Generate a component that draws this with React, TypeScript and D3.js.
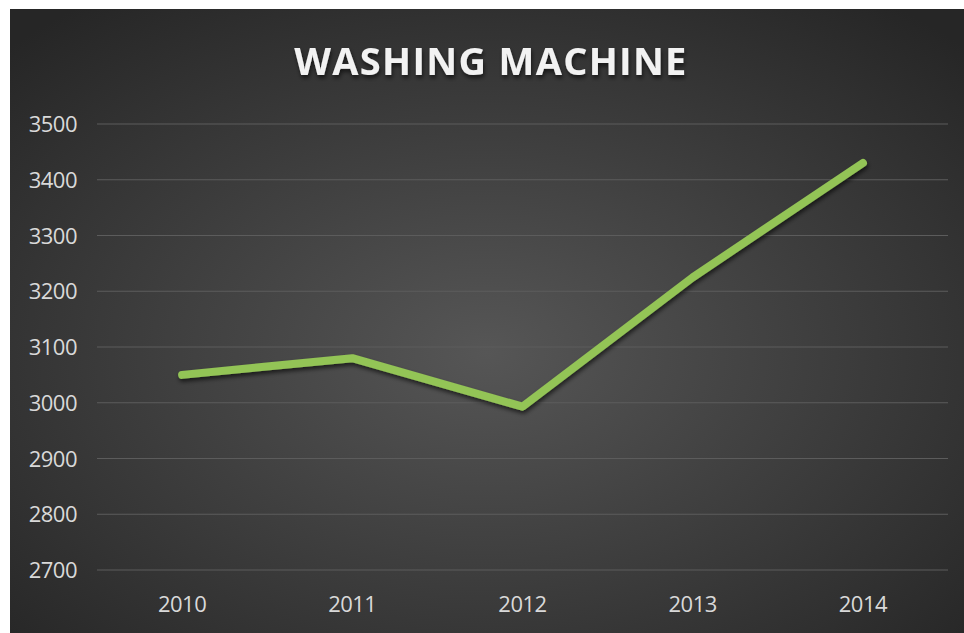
import React, { useEffect, useRef } from 'react';
import * as d3 from 'd3';

const years = ['2010', '2011', '2012', '2013', '2014'];
const sales = [3050, 3080, 2993, 3225, 3430];
const yTicks = [2700, 2800, 2900, 3000, 3100, 3200, 3300, 3400, 3500];
const chartTitle = 'WASHING MACHINE';

const App: React.FC = () => {
  const ref = useRef<SVGSVGElement | null>(null);

  useEffect(() => {
    if (!ref.current) return;
    const svg = d3.select(ref.current);
    svg.selectAll('*').remove();

    const width = 964;
    const height = 633;
    const left = 97;
    const right = 948;
    const top = 124;
    const bottom = 570;

    const defs = svg.append('defs');
    const grad = defs.append('radialGradient')
      .attr('id', 'bg')
      .attr('cx', '50%').attr('cy', '55%').attr('r', '70%');
    grad.append('stop').attr('offset', '0%').attr('stop-color', '#565656');
    grad.append('stop').attr('offset', '100%').attr('stop-color', '#262626');

    const shadow = defs.append('filter').attr('id', 'shadow')
      .attr('x', '-10%').attr('y', '-30%').attr('width', '120%').attr('height', '160%');
    shadow.append('feDropShadow')
      .attr('dx', 1).attr('dy', 3).attr('stdDeviation', 2)
      .attr('flood-color', '#000').attr('flood-opacity', 0.6);

    svg.append('rect')
      .attr('x', 10).attr('y', 9)
      .attr('width', width - 10).attr('height', height - 9)
      .attr('fill', 'url(#bg)');

    const x = d3.scalePoint<string>()
      .domain(years)
      .range([left, right])
      .padding(0.5);

    const y = d3.scaleLinear()
      .domain([2700, 3500])
      .range([bottom, top]);

    svg.append('g')
      .selectAll('line')
      .data(yTicks)
      .enter().append('line')
      .attr('x1', left).attr('x2', right)
      .attr('y1', d => y(d)).attr('y2', d => y(d))
      .attr('stroke', '#5c5c5c')
      .attr('stroke-width', 1.2);

    svg.append('g')
      .selectAll('text')
      .data(yTicks)
      .enter().append('text')
      .attr('x', 77)
      .attr('y', d => y(d) + 8)
      .attr('text-anchor', 'end')
      .attr('font-family', '"Open Sans", sans-serif')
      .attr('font-size', 22)
      .attr('letter-spacing', -0.5)
      .attr('fill', '#d9d9d9')
      .text(d => d);

    svg.append('g')
      .selectAll('text')
      .data(years)
      .enter().append('text')
      .attr('x', d => x(d) as number)
      .attr('y', 612)
      .attr('text-anchor', 'middle')
      .attr('font-family', '"Open Sans", sans-serif')
      .attr('font-size', 22)
      .attr('letter-spacing', -0.5)
      .attr('fill', '#d9d9d9')
      .text(d => d);

    const line = d3.line<number>()
      .x((_, i) => x(years[i]) as number)
      .y(d => y(d));

    svg.append('path')
      .datum(sales)
      .attr('d', line)
      .attr('fill', 'none')
      .attr('stroke', '#93c456')
      .attr('stroke-width', 8)
      .attr('stroke-linecap', 'round')
      .attr('stroke-linejoin', 'round')
      .attr('filter', 'url(#shadow)');

    svg.append('text')
      .attr('x', 491)
      .attr('y', 75)
      .attr('text-anchor', 'middle')
      .attr('font-family', '"Open Sans", sans-serif')
      .attr('font-weight', 'bold')
      .attr('font-size', 38)
      .attr('letter-spacing', 1.3)
      .attr('fill', '#f2f2f2')
      .attr('filter', 'url(#shadow)')
      .text(chartTitle);
  }, []);

  return (
    <svg
      ref={ref}
      width={964}
      height={633}
      style={{ position: 'absolute', left: 0, top: 0, display: 'block' }}
    />
  );
};

export default App;
